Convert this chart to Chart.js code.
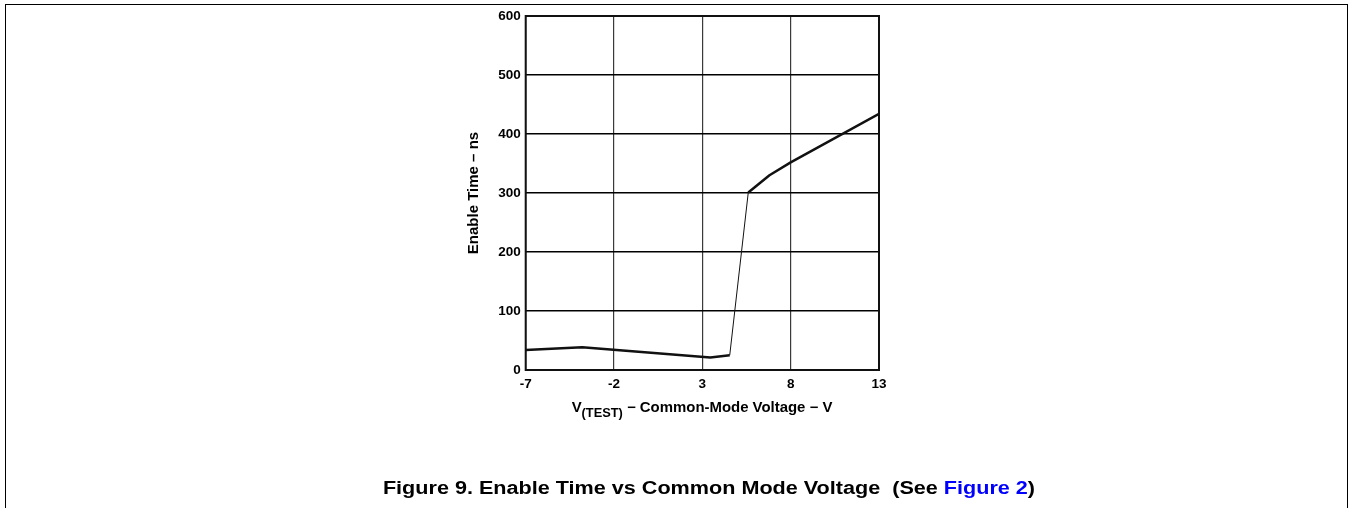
<!DOCTYPE html>
<html>
<head>
<meta charset="utf-8">
<script src="https://cdn.jsdelivr.net/npm/chart.js@4.4.1/dist/chart.umd.min.js"></script>
<style>
    body { margin: 0; background: #fff; }
    #page { position: relative; width: 1350px; height: 508px; overflow: hidden; font-family: "Liberation Sans", Arial, sans-serif; }
    #frame { position: absolute; left: 5px; top: 4px; width: 1343px; height: 520px; border: 1.5px solid #000; box-sizing: border-box; }
    #chart { position: absolute; left: 0; top: 0; }
    #xTitle { position: absolute; left: 702px; top: 399px; transform: translateX(-50%) scaleX(1.066); white-space: nowrap; font-weight: bold; font-size: 14px; color: #000; }
    #xTitle sub { font-size: 12px; vertical-align: -5px; }
    #caption { position: absolute; left: 709px; top: 478px; transform: translateX(-50%) scaleX(1.2); white-space: nowrap; font-weight: bold; font-size: 18px; color: #000; }
    #caption a { color: #0000ff; text-decoration: none; }
</style>
</head>
<body>
<div id="page">
    <div id="frame"></div>
    <canvas id="chart" width="1350" height="508"></canvas>
    <div id="xTitle">V<sub>(TEST)</sub> − Common-Mode Voltage − V</div>
    <div id="caption">Figure 9. Enable Time vs Common Mode Voltage&nbsp; (See <a href="#">Figure 2</a>)</div>
</div>
<script>
    // values
    const voltage = [-7, -3.8, 3.45, 4.55, 5.6, 6.8, 8, 13];
    const enableTime = [34, 38.5, 21, 25, 301, 330, 352, 434];
    const xTicks = [-7, -2, 3, 8, 13];
    const yTicks = [0, 100, 200, 300, 400, 500, 600];
    const thinSegment = 3; // the fast rise is drawn with a hairline

    const points = voltage.map((v, i) => ({ x: v, y: enableTime[i] }));

    const boxPlugin = {
        id: 'box',
        afterDatasetsDraw(chart) {
            const { ctx, chartArea: a } = chart;
            ctx.save();
            ctx.strokeStyle = '#111';
            ctx.lineWidth = 2;
            ctx.strokeRect(a.left, a.top, a.right - a.left, a.bottom - a.top);
            ctx.restore();
        }
    };

    const tickFont = { family: '"Liberation Sans", Arial, sans-serif', size: 13.5, weight: 'bold' };

    new Chart(document.getElementById('chart').getContext('2d'), {
        type: 'line',
        data: {
            datasets: [{
                data: points,
                borderColor: '#111',
                borderWidth: 2.5,
                pointRadius: 0,
                tension: 0,
                borderJoinStyle: 'round',
                segment: {
                    borderWidth: c => c.p0DataIndex === thinSegment ? 1 : 2.5
                }
            }]
        },
        options: {
            responsive: false,
            animation: false,
            layout: { padding: { left: 460, top: 16, right: 471, bottom: 100 } },
            plugins: { legend: { display: false }, tooltip: { enabled: false } },
            scales: {
                x: {
                    type: 'linear',
                    min: xTicks[0],
                    max: xTicks[xTicks.length - 1],
                    afterBuildTicks: s => { s.ticks = xTicks.map(v => ({ value: v })); },
                    afterFit: s => { s.height = 38; },
                    border: { display: false },
                    grid: { color: '#3a3a3a', lineWidth: 1.2, drawTicks: false },
                    ticks: { color: '#000', font: tickFont, padding: 6, maxRotation: 0 }
                },
                y: {
                    min: yTicks[0],
                    max: yTicks[yTicks.length - 1],
                    afterBuildTicks: s => { s.ticks = yTicks.map(v => ({ value: v })); },
                    afterFit: s => { s.width = 65.7; },
                    border: { display: false },
                    grid: { color: '#000', lineWidth: 1.5, drawTicks: false },
                    ticks: { color: '#000', font: tickFont, padding: 5 },
                    title: {
                        display: true,
                        text: 'Enable Time – ns',
                        color: '#000',
                        font: { family: '"Liberation Sans", Arial, sans-serif', size: 15, weight: 'bold' },
                        padding: { top: 5, bottom: 0 }
                    }
                }
            }
        },
        plugins: [boxPlugin]
    });
</script>
</body>
</html>
